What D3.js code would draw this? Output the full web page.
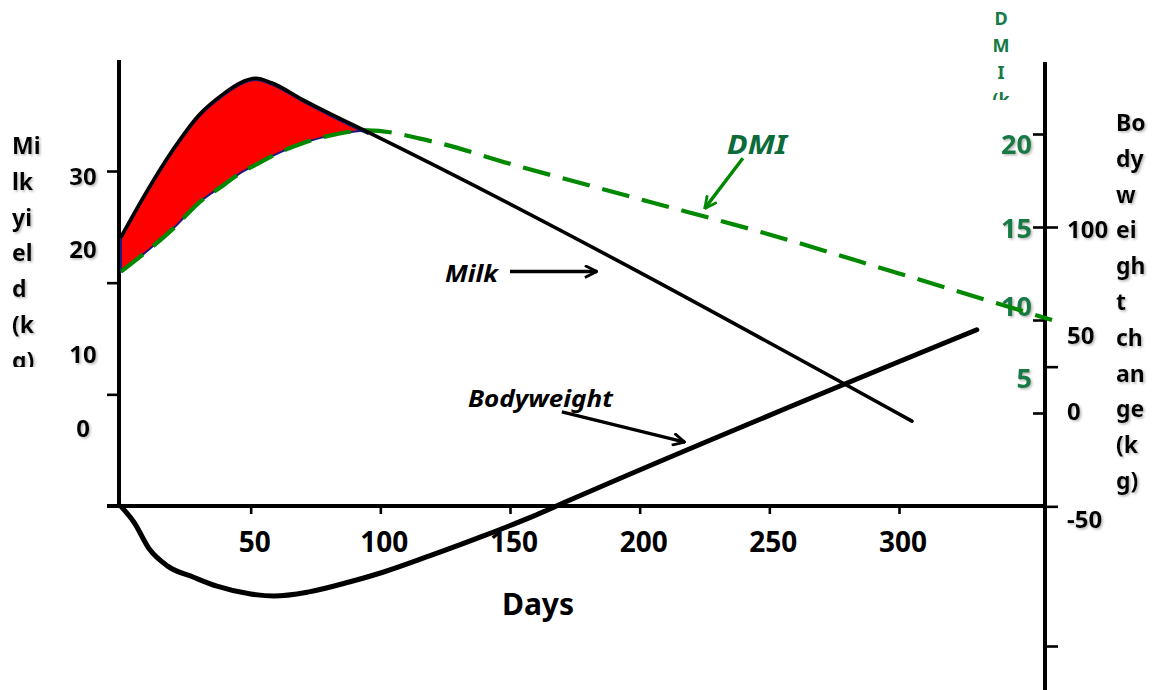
<!DOCTYPE html>
<html><head><meta charset="utf-8">
<script src="https://cdn.jsdelivr.net/npm/d3@7"></script>
<style>body{margin:0;background:#fff;} svg{display:block;}</style>
</head><body>
<svg id="chart" width="1158" height="690"></svg>
<script>
// ---------- data ----------
const xTickDays = [50, 100, 150, 200, 250, 300];
const milkTicks = [0, 10, 20, 30];
const dmiTicks = [5, 10, 15, 20];
const bwTicks = [-50, 0, 50, 100];

const milkDays = [0, 10, 20, 30, 40, 46, 52, 58, 70, 80, 95, 305];
const milkKg   = [24.1, 28.2, 31.9, 35.0, 37.0, 37.9, 38.3, 37.9, 36.4, 35.2, 33.5, 7.6];

const dmiDays = [0, 10, 20, 30, 40, 46, 52, 58, 70, 80, 95, 120, 150, 200, 250, 300, 359];
const dmiKg   = [12.6, 13.7, 14.9, 16.3, 17.3, 17.9, 18.35, 18.8, 19.5, 19.9, 20.2, 19.6, 18.4, 16.5, 14.6, 12.5, 10.0];

const bwDays = [0, 5, 11, 18, 28, 37, 50, 59, 72, 88, 101, 120, 140, 159, 172, 330];
const bwKg   = [0, -5.7, -15.4, -21.4, -25.4, -28.6, -31.4, -32.1, -30.7, -27.1, -23.6, -17.4, -10.5, -3.5, 1.8, 63.2];

const milkTitle = ["Mi", "lk", "yi", "el", "d", "(k", "g)"];
const bwTitle = ["Bo", "dy", "w", "ei", "gh", "t", "ch", "an", "ge", "(k", "g)"];
const dmiTitle = ["D", "M", "I", "(k"];
const xTitle = "Days";

// annotations in data units
const noteLabels = ["Milk", "Bodyweight", "DMI"];
const noteScales = ["milk", "bw", "dmi"];
const noteText = [[124.9, 20.1], [133.8, 35.5], [233.6, 18.9]];
const noteFrom = [[150.0, 21.0], [170.0, 33.8], [239.8, 18.7]];
const noteTo   = [[183.5, 21.0], [217.4, 23.0], [225.1, 16.0]];

// ---------- scales ----------
const svg = d3.select("#chart");
const x = d3.scaleLinear([0, 300], [121, 899]);
const yMilk = d3.scaleLinear([0, 30], [506, 171]);
const yDmi = d3.scaleLinear([0, 20], [506, 134]);
const yBw = d3.scaleLinear([-50, 100], [646, 227]);
const scaleOf = {milk: yMilk, dmi: yDmi, bw: yBw};

const leftX = 119, rightX = 1045, baseY = 506, topY = 60;

// label placements (as in original slide)
const milkLabelY = d3.scaleLinear([0, 10, 20, 30], [427, 353, 248, 175]);
const dmiLabelY = d3.scaleLinear([5, 10, 15, 20], [377, 305, 227, 143]);
const bwLabelY = d3.scaleLinear([-50, 0, 50, 100], [518, 410, 334, 228]);

const defs = svg.append("defs");
const f = defs.append("filter").attr("id", "sh").attr("x", "-20%").attr("y", "-20%").attr("width", "150%").attr("height", "150%");
f.append("feDropShadow").attr("dx", 1.5).attr("dy", 1.5).attr("stdDeviation", 0.8)
  .attr("flood-color", "#888").attr("flood-opacity", 0.6);
defs.append("clipPath").attr("id", "clipL").append("rect").attr("x", 0).attr("y", 0).attr("width", 60).attr("height", 367);
defs.append("clipPath").attr("id", "clipT").append("rect").attr("x", 980).attr("y", 0).attr("width", 50).attr("height", 100);
function marker(id, color) {
  defs.append("marker").attr("id", id).attr("viewBox", "0 0 14 14").attr("refX", 13).attr("refY", 7)
    .attr("markerWidth", 14).attr("markerHeight", 14).attr("markerUnits", "userSpaceOnUse").attr("orient", "auto")
    .append("path").attr("d", "M1,1 L13,7 L1,13").attr("fill", "none").attr("stroke", color).attr("stroke-width", 2.8);
}
marker("arrK", "#000");
marker("arrG", "#008800");

// ---------- axes ----------
function styleAxis(g) {
  g.select(".domain").remove();
  g.selectAll(".tick line").attr("stroke", "#000").attr("stroke-width", 2.6);
}
svg.append("g").attr("transform", `translate(${leftX},0)`)
  .call(d3.axisLeft(yMilk).tickValues(milkTicks).tickSize(12).tickFormat("")).call(styleAxis);
svg.append("g").attr("transform", `translate(${rightX},0)`)
  .call(d3.axisLeft(yDmi).tickValues(dmiTicks).tickSize(12).tickFormat("")).call(styleAxis);
svg.append("g").attr("transform", `translate(${rightX},0)`)
  .call(d3.axisRight(yBw).tickValues(bwTicks).tickSize(13).tickFormat("")).call(styleAxis);
svg.append("g").attr("transform", `translate(0,${baseY})`)
  .call(d3.axisBottom(x).tickValues(xTickDays).tickSize(8).tickFormat("")).call(styleAxis);

svg.append("line").attr("x1", leftX).attr("x2", leftX).attr("y1", topY).attr("y2", baseY)
  .attr("stroke", "#000").attr("stroke-width", 4);
svg.append("line").attr("x1", 107).attr("x2", rightX).attr("y1", baseY).attr("y2", baseY)
  .attr("stroke", "#000").attr("stroke-width", 4);
svg.append("line").attr("x1", rightX).attr("x2", rightX).attr("y1", 62).attr("y2", 690)
  .attr("stroke", "#000").attr("stroke-width", 4);

// ---------- tick labels ----------
const calibri = "'Noto Sans', 'Liberation Sans', sans-serif";
const comic = "'Noto Sans', 'DejaVu Sans', sans-serif";
svg.append("g").selectAll("text").data(milkTicks).join("text")
  .attr("x", 83).attr("y", d => milkLabelY(d)).attr("text-anchor", "middle").attr("dominant-baseline", "central")
  .attr("font-family", calibri).attr("font-weight", 700).attr("font-size", 24).attr("filter", "url(#sh)").text(d => d);
svg.append("g").selectAll("text").data(dmiTicks).join("text")
  .attr("x", 1032).attr("y", d => dmiLabelY(d)).attr("text-anchor", "end").attr("dominant-baseline", "central")
  .attr("font-family", calibri).attr("font-weight", 700).attr("font-size", 27).attr("fill", "#137a45")
  .attr("filter", "url(#sh)").text(d => d);
svg.append("g").selectAll("text").data(bwTicks).join("text")
  .attr("x", 1067).attr("y", d => bwLabelY(d)).attr("text-anchor", "start").attr("dominant-baseline", "central")
  .attr("font-family", calibri).attr("font-weight", 700).attr("font-size", 24).attr("filter", "url(#sh)").text(d => d);
svg.append("g").selectAll("text").data(xTickDays).join("text")
  .attr("x", d => x(d) + 4).attr("y", 552).attr("text-anchor", "middle")
  .attr("font-family", comic).attr("font-weight", 700).attr("font-size", 28).text(d => d);
svg.append("text").attr("x", 538).attr("y", 615).attr("text-anchor", "middle")
  .attr("font-family", comic).attr("font-weight", 700).attr("font-size", 30).text(xTitle);

// ---------- axis titles ----------
svg.append("g").attr("clip-path", "url(#clipL)").selectAll("text").data(milkTitle).join("text")
  .attr("x", 12).attr("y", (d, i) => 145 + i * 35.8).attr("dominant-baseline", "central")
  .attr("font-family", calibri).attr("font-weight", 700).attr("font-size", 23).attr("filter", "url(#sh)").text(d => d);
svg.append("g").selectAll("text").data(bwTitle).join("text")
  .attr("x", 1116).attr("y", (d, i) => 122 + i * 35.8).attr("dominant-baseline", "central")
  .attr("font-family", calibri).attr("font-weight", 700).attr("font-size", 23).attr("filter", "url(#sh)").text(d => d);
svg.append("g").attr("clip-path", "url(#clipT)").selectAll("text").data(dmiTitle).join("text")
  .attr("x", 1001).attr("y", (d, i) => 18 + i * 27).attr("text-anchor", "middle").attr("dominant-baseline", "central")
  .attr("font-family", comic).attr("font-weight", 700).attr("font-size", 18).attr("fill", "#137a45").text(d => d);

// ---------- series ----------
const milk = milkDays.map((d, i) => ({d, v: milkKg[i]}));
const dmi = dmiDays.map((d, i) => ({d, v: dmiKg[i]}));
const bw = bwDays.map((d, i) => ({d, v: bwKg[i]}));
const dmiByDay = new Map(dmi.map(p => [p.d, p.v]));
const overlap = milk.filter(p => dmiByDay.has(p.d)).map(p => ({d: p.d, m: p.v, i: dmiByDay.get(p.d)}));

svg.append("path").datum(overlap)
  .attr("d", d3.area().curve(d3.curveMonotoneX).x(p => x(p.d)).y1(p => yMilk(p.m) + 1.8).y0(p => yDmi(p.i)))
  .attr("fill", "#ff0000").attr("stroke", "#1c1c7a").attr("stroke-width", 2);

svg.append("path").datum(dmi)
  .attr("d", d3.line().curve(d3.curveMonotoneX).x(p => x(p.d)).y(p => yDmi(p.v)))
  .attr("fill", "none").attr("stroke", "#008800").attr("stroke-width", 4.2).attr("stroke-dasharray", "28 13");

svg.append("path").datum(milk)
  .attr("d", d3.line().curve(d3.curveMonotoneX).x(p => x(p.d)).y(p => yMilk(p.v)))
  .attr("fill", "none").attr("stroke", "#000").attr("stroke-width", 3.6).attr("stroke-linecap", "round");

svg.append("path").datum(bw)
  .attr("d", d3.line().curve(d3.curveMonotoneX).x(p => x(p.d)).y(p => yBw(p.v)))
  .attr("fill", "none").attr("stroke", "#000").attr("stroke-width", 5).attr("stroke-linecap", "round");

// ---------- annotations ----------
noteLabels.forEach((lab, k) => {
  const ys = scaleOf[noteScales[k]];
  const col = lab === "DMI" ? "#008800" : "#000";
  svg.append("line")
    .attr("x1", x(noteFrom[k][0])).attr("y1", ys(noteFrom[k][1]))
    .attr("x2", x(noteTo[k][0])).attr("y2", ys(noteTo[k][1]))
    .attr("stroke", col).attr("stroke-width", 3.4)
    .attr("marker-end", lab === "DMI" ? "url(#arrG)" : "url(#arrK)");
  svg.append("text").attr("x", x(noteText[k][0])).attr("y", ys(noteText[k][1]))
    .attr("font-family", comic).attr("font-weight", 700).attr("font-style", "italic")
    .attr("font-size", lab === "DMI" ? 26 : 23)
    .attr("fill", lab === "DMI" ? "#0b6b3a" : "#000")
    .attr("textLength", lab === "Milk" ? 53 : lab === "DMI" ? 60 : 145).attr("lengthAdjust", "spacingAndGlyphs")
    .text(lab);
});
</script>
</body></html>
